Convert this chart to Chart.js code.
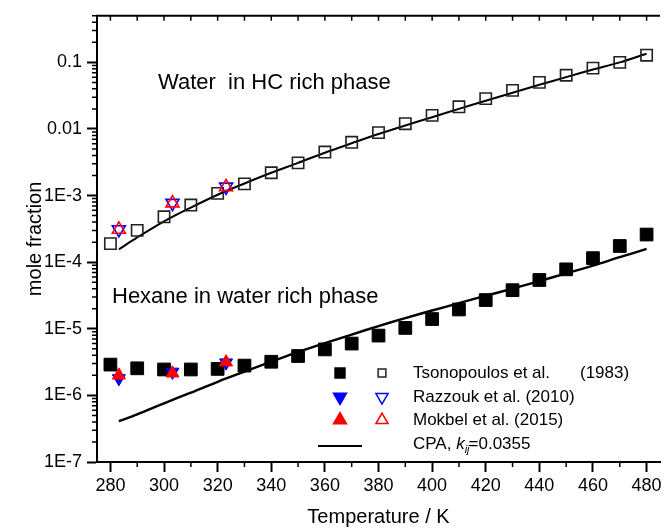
<!DOCTYPE html>
<html>
<head>
<meta charset="utf-8">
<script src="https://cdn.jsdelivr.net/npm/chart.js@4.4.0/dist/chart.umd.min.js"></script>
<style>
  html, body { margin: 0; padding: 0; background: #fff; }
  #wrap { width: 670px; height: 531px; }
</style>
</head>
<body>
<div id="wrap"><canvas id="solChart" width="670" height="531"></canvas></div>
<script>
// Tsonopoulos et al. (1983): temperature grid and mutual solubilities
const tempExp = [280, 290, 300, 310, 320, 330, 340, 350, 360, 370, 380,
                 390, 400, 410, 420, 430, 440, 450, 460, 470, 480];
const waterInHC = [1.9e-4, 3.0e-4, 4.8e-4, 7.2e-4, 1.08e-3, 1.5e-3, 2.2e-3, 3.1e-3, 4.5e-3, 6.3e-3, 8.8e-3,
                   1.2e-2, 1.6e-2, 2.15e-2, 2.85e-2, 3.8e-2, 5.0e-2, 6.4e-2, 8.2e-2, 0.10, 0.128];
const hexaneInWater = [2.9e-6, 2.55e-6, 2.45e-6, 2.45e-6, 2.5e-6, 2.8e-6, 3.2e-6, 3.9e-6, 4.9e-6, 6.0e-6, 7.9e-6,
                       1.03e-5, 1.4e-5, 1.95e-5, 2.7e-5, 3.8e-5, 5.4e-5, 7.8e-5, 1.15e-4, 1.75e-4, 2.6e-4];

// Razzouk et al. (2010) and Mokbel et al. (2015)
const tempLit = [283.15, 303.15, 323.15];
const razzoukHC = [3.1e-4, 7.7e-4, 1.35e-3];
const razzoukAq = [1.8e-6, 2.25e-6, 3.1e-6];
const mokbelHC = [3.1e-4, 7.7e-4, 1.35e-3];
const mokbelAq = [2.0e-6, 2.15e-6, 3.15e-6];

// CPA model curves
const tempCPA = [283.15, 290, 300, 310, 320, 330, 340, 350, 360, 370, 380,
                 390, 400, 410, 420, 430, 440, 450, 460, 470, 480];
const cpaHC = [1.56e-4, 2.35e-4, 4.1e-4, 6.6e-4, 1.03e-3, 1.52e-3, 2.2e-3, 3.1e-3, 4.4e-3, 6.1e-3, 8.4e-3,
               1.13e-2, 1.5e-2, 2.0e-2, 2.65e-2, 3.5e-2, 4.6e-2, 6.0e-2, 7.8e-2, 0.10, 0.135];
const cpaAq = [4.1e-7, 5.2e-7, 7.6e-7, 1.1e-6, 1.6e-6, 2.27e-6, 3.2e-6, 4.5e-6, 6.1e-6, 8.2e-6, 1.1e-5,
               1.45e-5, 1.88e-5, 2.43e-5, 3.13e-5, 4.0e-5, 5.2e-5, 6.8e-5, 8.9e-5, 1.19e-4, 1.58e-4];

const xTicks = [280, 300, 320, 340, 360, 380, 400, 420, 440, 460, 480];
const yTicks = [1e-7, 1e-6, 1e-5, 1e-4, 1e-3, 1e-2, 1e-1];

const FONT = '"Liberation Sans", Arial, sans-serif';
const BLUE = '#0000ff';
const RED = '#ff0000';

const pts = (xs, ys) => xs.map((x, i) => ({ x: x, y: ys[i] }));

function fmtY(v) {
  const e = Math.round(Math.log10(v));
  if (e === -1) return '0.1';
  if (e === -2) return '0.01';
  return '1E' + e;
}

// minor ticks, top frame, in-plot labels and the legend block
const extras = {
  id: 'extras',
  afterDraw(chart) {
    const ctx = chart.ctx;
    const xs = chart.scales.x, ys = chart.scales.y;
    const a = chart.chartArea;
    ctx.save();
    ctx.strokeStyle = '#000';
    ctx.lineWidth = 2;

    // top axis line with inward ticks
    ctx.beginPath();
    ctx.moveTo(a.left - 1, a.top);
    ctx.lineTo(a.right, a.top);
    ctx.stroke();
    ctx.lineWidth = 1.5;
    ctx.beginPath();
    for (let t = 280; t <= 480; t += 10) {
      const px = xs.getPixelForValue(t);
      ctx.moveTo(px, a.top);
      ctx.lineTo(px, a.top + 5);
    }
    // bottom minor ticks
    for (let t = 290; t <= 470; t += 20) {
      const px = xs.getPixelForValue(t);
      ctx.moveTo(px, a.bottom);
      ctx.lineTo(px, a.bottom + 5);
    }
    // left minor ticks
    for (let e = -7; e <= -1; e++) {
      for (let k = 2; k <= 9; k++) {
        const v = k * Math.pow(10, e);
        if (v > ys.max) break;
        const py = ys.getPixelForValue(v);
        ctx.moveTo(a.left, py);
        ctx.lineTo(a.left - 5, py);
      }
    }
    ctx.stroke();

    // phase labels
    ctx.fillStyle = '#000';
    ctx.textBaseline = 'alphabetic';
    ctx.textAlign = 'left';
    ctx.font = '22px ' + FONT;
    ctx.fillText('Water  in HC rich phase', 158, 89);
    ctx.fillText('Hexane in water rich phase', 112, 303);

    // legend
    const rows = [373, 397, 420, 444];
    const cFill = 340, cOpen = 382, tx = 413;
    const P = Chart.helpers.drawPoint;

    ctx.fillStyle = '#000'; ctx.strokeStyle = '#000';
    P(ctx, { pointStyle: 'rect', radius: 7, borderWidth: 1 }, cFill, rows[0]);
    ctx.fillStyle = '#fff'; ctx.strokeStyle = '#222';
    P(ctx, { pointStyle: 'rect', radius: 5.5, borderWidth: 1.5 }, cOpen, rows[0]);

    ctx.fillStyle = BLUE; ctx.strokeStyle = BLUE;
    P(ctx, { pointStyle: 'triangle', rotation: 180, radius: 7.5, borderWidth: 1 }, cFill, rows[1]);
    ctx.fillStyle = '#fff';
    P(ctx, { pointStyle: 'triangle', rotation: 180, radius: 7, borderWidth: 1.5 }, cOpen, rows[1]);

    ctx.fillStyle = RED; ctx.strokeStyle = RED;
    P(ctx, { pointStyle: 'triangle', radius: 7.5, borderWidth: 1 }, cFill, rows[2]);
    ctx.fillStyle = '#fff';
    P(ctx, { pointStyle: 'triangle', radius: 7, borderWidth: 1.5 }, cOpen, rows[2]);

    ctx.strokeStyle = '#000';
    ctx.lineWidth = 2;
    ctx.beginPath();
    ctx.moveTo(318, rows[3] + 2);
    ctx.lineTo(362, rows[3] + 2);
    ctx.stroke();

    ctx.fillStyle = '#000';
    ctx.textBaseline = 'middle';
    ctx.font = '17px ' + FONT;
    ctx.fillText('Tsonopoulos et al.', tx, rows[0]);
    ctx.fillText('(1983)', 580, rows[0]);
    ctx.fillText('Razzouk et al. (2010)', tx, rows[1]);
    ctx.fillText('Mokbel et al. (2015)', tx, rows[2]);

    let cx = tx;
    ctx.fillText('CPA, ', cx, rows[3]);
    cx += ctx.measureText('CPA, ').width;
    ctx.font = 'italic 17px ' + FONT;
    ctx.fillText('k', cx, rows[3]);
    cx += ctx.measureText('k').width;
    ctx.font = 'italic 11px ' + FONT;
    ctx.fillText('ij', cx, rows[3] + 6);
    cx += ctx.measureText('ij').width - 1;
    ctx.font = '17px ' + FONT;
    ctx.fillText('=0.0355', cx, rows[3]);
    ctx.restore();
  }
};

const openSq = { pointStyle: 'rect', pointRadius: 8, pointBorderWidth: 1.6,
                 pointBorderColor: '#222', pointBackgroundColor: 'rgba(255,255,255,0)' };

new Chart(document.getElementById('solChart'), {
  type: 'scatter',
  data: {
    datasets: [
      { label: 'Mokbel aq', data: pts(tempLit, mokbelAq), pointStyle: 'triangle', pointRadius: 7.5,
        pointBackgroundColor: RED, pointBorderColor: RED, pointBorderWidth: 1 },
      { label: 'Mokbel HC', data: pts(tempLit, mokbelHC), pointStyle: 'triangle', pointRadius: 7.5,
        pointBackgroundColor: 'rgba(255,255,255,0)', pointBorderColor: RED, pointBorderWidth: 1.6 },
      { label: 'Razzouk aq', data: pts(tempLit, razzoukAq), pointStyle: 'triangle', pointRotation: 180, pointRadius: 7.5,
        pointBackgroundColor: BLUE, pointBorderColor: BLUE, pointBorderWidth: 1 },
      { label: 'Razzouk HC', data: pts(tempLit, razzoukHC), pointStyle: 'triangle', pointRotation: 180, pointRadius: 7.5,
        pointBackgroundColor: 'rgba(255,255,255,0)', pointBorderColor: BLUE, pointBorderWidth: 1.6 },
      Object.assign({ label: 'Tsonopoulos HC', data: pts(tempExp, waterInHC) }, openSq),
      { label: 'Tsonopoulos aq', data: pts(tempExp, hexaneInWater), pointStyle: 'rect', pointRadius: 9,
        pointBackgroundColor: '#000', pointBorderColor: '#000', pointBorderWidth: 1 },
      { label: 'CPA HC', data: pts(tempCPA, cpaHC), showLine: true, pointRadius: 0,
        borderColor: '#000', borderWidth: 2, tension: 0.3 },
      { label: 'CPA aq', data: pts(tempCPA, cpaAq), showLine: true, pointRadius: 0,
        borderColor: '#000', borderWidth: 2.4, tension: 0.3 }
    ]
  },
  options: {
    responsive: false,
    animation: false,
    devicePixelRatio: 1,
    clip: false,
    layout: { padding: { top: 13, right: 1, left: 0, bottom: 0 } },
    plugins: { legend: { display: false }, tooltip: { enabled: false } },
    scales: {
      x: {
        type: 'linear', min: 275, max: 485,
        afterBuildTicks: s => { s.ticks = xTicks.map(v => ({ value: v })); },
        afterFit: s => { s.height = 69; },
        grid: { drawOnChartArea: false, drawTicks: true, tickLength: 10, tickWidth: 2, tickColor: '#000' },
        border: { display: true, color: '#000', width: 2 },
        ticks: { color: '#000', padding: 3, maxRotation: 0, font: { family: FONT, size: 18 } },
        title: { display: true, text: 'Temperature / K', color: '#000', padding: { top: 0, bottom: 2 },
                 font: { family: FONT, size: 20 } }
      },
      y: {
        type: 'logarithmic', min: 1e-7, max: 0.5,
        afterBuildTicks: s => { s.ticks = yTicks.map(v => ({ value: v, major: true })); },
        afterFit: s => { s.width = 97; },
        grid: { drawOnChartArea: false, drawTicks: true, tickLength: 10, tickWidth: 2, tickColor: '#000' },
        border: { display: true, color: '#000', width: 2 },
        ticks: { color: '#000', padding: 5, callback: v => fmtY(v), font: { family: FONT, size: 18 } },
        title: { display: true, text: 'mole fraction', color: '#000', padding: { top: 23, bottom: 0 },
                 font: { family: FONT, size: 20 } }
      }
    }
  },
  plugins: [extras]
});
</script>
</body>
</html>
